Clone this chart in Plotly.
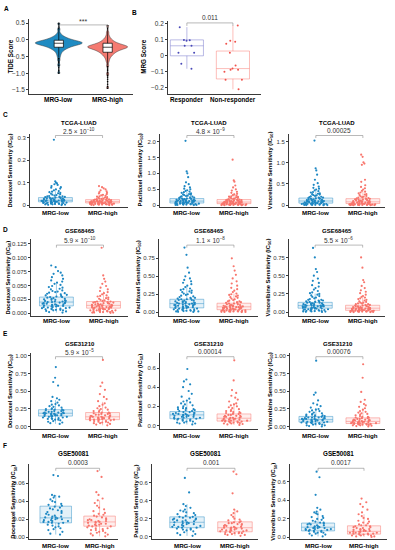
import plotly.graph_objects as go

# ---------------- DATA ----------------
groups = ["MRG-low", "MRG-high"]
resp_groups = ["Responder", "Non-responder"]

# Panel A: TIDE score samples (violin) + box stats [q1, median, q3, lowerfence, upperfence] + outliers
tide_low = [0.5, 0.32, 0.2, 0.14, 0.11, 0.09, 0.07, 0.05, 0.04, 0.03, 0.02, 0.005, -0.004, -0.012, -0.02,
            -0.027, -0.035, -0.041, -0.047, -0.053, -0.058, -0.064, -0.068, -0.074, -0.078, -0.082, -0.087,
            -0.09, -0.094, -0.098, -0.102, -0.107, -0.112, -0.117, -0.123, -0.128, -0.134, -0.14, -0.146,
            -0.153, -0.16, -0.168, -0.176, -0.185, -0.194, -0.204, -0.215, -0.227, -0.24, -0.255, -0.27,
            -0.29, -0.31, -0.34, -0.38, -0.43, -0.5, -0.6, -0.75, -1.0]
tide_high = [0.43, 0.23, 0.13, 0.07, 0.03, 0.0, -0.02, -0.04, -0.06, -0.075, -0.09, -0.1, -0.11, -0.12, -0.13,
             -0.14, -0.148, -0.155, -0.162, -0.168, -0.174, -0.18, -0.186, -0.192, -0.197, -0.202, -0.207,
             -0.211, -0.215, -0.218, -0.222, -0.227, -0.233, -0.239, -0.245, -0.252, -0.259, -0.266, -0.274,
             -0.282, -0.291, -0.3, -0.31, -0.32, -0.33, -0.342, -0.355, -0.37, -0.385, -0.4, -0.42, -0.44,
             -0.465, -0.49, -0.53, -0.58, -0.65, -0.77, -1.02, -1.45]
tide_low_box = [-0.22, -0.1, -0.01, -0.53, 0.3]
tide_high_box = [-0.37, -0.22, -0.1, -0.77, 0.3]
tide_low_out = [0.33, 0.37, 0.41, 0.45, 0.5, -0.56, -0.6, -0.64, -0.68, -0.72, -0.77, -0.82, -0.87, -0.92, -0.96, -1.0]
tide_high_out = [0.33, 0.38, 0.43, -0.8, -0.84, -0.88, -0.92, -0.97, -1.02, -1.07, -1.12, -1.18, -1.25, -1.33, -1.4, -1.45]
tide_p = "***"

# Panel B: MRG score
mrg_resp = [0.18, 0.1, 0.094, 0.098, 0.0625, 0.0625, 0.019, 0.019, -0.05, -0.081]
mrg_nonresp = [0.19, 0.094, 0.088, 0.075, 0.02, -0.06, -0.08, -0.088, -0.088, -0.1, -0.15, -0.15, -0.21]
mrg_resp_box = [0.0, 0.063, 0.1, -0.081, 0.18]
mrg_nonresp_box = [-0.145, -0.08, 0.03, -0.21, 0.19]
mrg_p = "0.011"

# Panels C-F: drug sensitivity (IC50) per cohort
tcga_doc_low = [0.29, 0.106, 0.1, 0.097, 0.093, 0.09, 0.085, 0.08, 0.078, 0.074, 0.07, 0.066, 0.063, 0.06, 0.058, 0.055, 0.053, 0.051, 0.049, 0.047, 0.045, 0.043, 0.041, 0.04, 0.039, 0.038, 0.037, 0.036, 0.035, 0.034, 0.033, 0.032, 0.031, 0.03, 0.029, 0.028, 0.028, 0.027, 0.026, 0.025, 0.025, 0.024, 0.023, 0.023, 0.022, 0.022, 0.021, 0.021, 0.02, 0.02, 0.019, 0.019, 0.018, 0.018, 0.017, 0.017, 0.016, 0.016, 0.015, 0.015, 0.014, 0.014, 0.013, 0.012, 0.012, 0.011, 0.01, 0.01, 0.009, 0.008, 0.008, 0.007, 0.006, 0.006, 0.005, 0.004, 0.004, 0.003, 0.002, 0.001]
tcga_doc_high = [0.085, 0.08, 0.075, 0.07, 0.066, 0.062, 0.058, 0.055, 0.052, 0.049, 0.046, 0.044, 0.042, 0.04, 0.038, 0.036, 0.034, 0.033, 0.031, 0.03, 0.029, 0.028, 0.027, 0.026, 0.025, 0.024, 0.023, 0.022, 0.021, 0.021, 0.02, 0.02, 0.019, 0.019, 0.018, 0.018, 0.017, 0.017, 0.016, 0.016, 0.016, 0.015, 0.015, 0.014, 0.014, 0.014, 0.013, 0.013, 0.012, 0.012, 0.012, 0.011, 0.011, 0.011, 0.01, 0.01, 0.01, 0.009, 0.009, 0.009, 0.008, 0.008, 0.007, 0.007, 0.007, 0.006, 0.006, 0.005, 0.005, 0.005, 0.004, 0.004, 0.004, 0.003, 0.003, 0.003, 0.002, 0.002, 0.001, 0.001]
tcga_pac_low = [2.02, 1.06, 1.0, 0.88, 0.72, 0.66, 0.6, 0.56, 0.52, 0.5, 0.47, 0.45, 0.43, 0.41, 0.39, 0.37, 0.35, 0.34, 0.33, 0.32, 0.3, 0.29, 0.28, 0.27, 0.26, 0.25, 0.24, 0.23, 0.22, 0.21, 0.21, 0.2, 0.19, 0.19, 0.18, 0.18, 0.17, 0.17, 0.16, 0.16, 0.15, 0.15, 0.14, 0.14, 0.13, 0.13, 0.13, 0.12, 0.12, 0.11, 0.11, 0.1, 0.1, 0.1, 0.09, 0.09, 0.08, 0.08, 0.08, 0.07, 0.07, 0.07, 0.06, 0.06, 0.05, 0.05, 0.05, 0.04, 0.04, 0.04, 0.03, 0.03, 0.03, 0.02, 0.02, 0.02, 0.01, 0.01, 0.01, 0.005]
tcga_pac_high = [1.43, 0.78, 0.74, 0.62, 0.56, 0.5, 0.46, 0.42, 0.39, 0.36, 0.34, 0.32, 0.3, 0.28, 0.27, 0.26, 0.25, 0.24, 0.23, 0.22, 0.21, 0.2, 0.19, 0.18, 0.18, 0.17, 0.16, 0.16, 0.15, 0.15, 0.14, 0.14, 0.13, 0.13, 0.12, 0.12, 0.11, 0.11, 0.11, 0.1, 0.1, 0.1, 0.09, 0.09, 0.09, 0.08, 0.08, 0.08, 0.07, 0.07, 0.07, 0.06, 0.06, 0.06, 0.05, 0.05, 0.05, 0.05, 0.04, 0.04, 0.04, 0.04, 0.03, 0.03, 0.03, 0.03, 0.02, 0.02, 0.02, 0.02, 0.015, 0.015, 0.01, 0.01, 0.01, 0.008, 0.006, 0.005, 0.003, 0.002]
tcga_vin_low = [1.52, 0.87, 0.82, 0.72, 0.6, 0.52, 0.48, 0.44, 0.41, 0.39, 0.37, 0.35, 0.33, 0.31, 0.3, 0.28, 0.27, 0.26, 0.25, 0.24, 0.23, 0.22, 0.21, 0.2, 0.19, 0.18, 0.18, 0.17, 0.16, 0.16, 0.15, 0.15, 0.14, 0.14, 0.13, 0.13, 0.12, 0.12, 0.11, 0.11, 0.11, 0.1, 0.1, 0.1, 0.09, 0.09, 0.09, 0.08, 0.08, 0.08, 0.07, 0.07, 0.07, 0.06, 0.06, 0.06, 0.05, 0.05, 0.05, 0.05, 0.04, 0.04, 0.04, 0.04, 0.03, 0.03, 0.03, 0.03, 0.02, 0.02, 0.02, 0.02, 0.015, 0.01, 0.01, 0.01, 0.008, 0.005, 0.003, 0.002]
tcga_vin_high = [1.19, 1.14, 1.01, 0.98, 0.95, 0.6, 0.55, 0.47, 0.43, 0.4, 0.37, 0.34, 0.32, 0.3, 0.28, 0.26, 0.25, 0.24, 0.22, 0.21, 0.2, 0.19, 0.18, 0.17, 0.16, 0.16, 0.15, 0.14, 0.14, 0.13, 0.13, 0.12, 0.12, 0.11, 0.11, 0.1, 0.1, 0.09, 0.09, 0.09, 0.08, 0.08, 0.08, 0.07, 0.07, 0.07, 0.06, 0.06, 0.06, 0.05, 0.05, 0.05, 0.05, 0.04, 0.04, 0.04, 0.04, 0.03, 0.03, 0.03, 0.03, 0.03, 0.02, 0.02, 0.02, 0.02, 0.02, 0.015, 0.015, 0.01, 0.01, 0.01, 0.01, 0.008, 0.006, 0.005, 0.004, 0.003, 0.002, 0.001]

g68_doc_low = [0.086, 0.083, 0.076, 0.073, 0.071, 0.068, 0.065, 0.062, 0.059, 0.057, 0.055, 0.053, 0.051, 0.049, 0.047, 0.046, 0.044, 0.043, 0.041, 0.04, 0.039, 0.038, 0.037, 0.036, 0.035, 0.034, 0.033, 0.032, 0.031, 0.03, 0.029, 0.029, 0.028, 0.027, 0.026, 0.026, 0.025, 0.024, 0.024, 0.023, 0.022, 0.022, 0.021, 0.021, 0.02, 0.02, 0.019, 0.019, 0.018, 0.018, 0.017, 0.017, 0.016, 0.016, 0.015, 0.015, 0.014, 0.014, 0.013, 0.013, 0.012, 0.012, 0.011, 0.011, 0.01, 0.01, 0.009, 0.009, 0.008, 0.008, 0.007, 0.007, 0.006, 0.006, 0.005, 0.005, 0.004, 0.003, 0.002, 0.001]
g68_doc_high = [0.118, 0.068, 0.062, 0.057, 0.053, 0.049, 0.046, 0.043, 0.04, 0.038, 0.036, 0.034, 0.032, 0.031, 0.03, 0.028, 0.027, 0.026, 0.025, 0.024, 0.023, 0.022, 0.021, 0.021, 0.02, 0.02, 0.019, 0.019, 0.018, 0.018, 0.017, 0.017, 0.016, 0.016, 0.015, 0.015, 0.015, 0.014, 0.014, 0.014, 0.013, 0.013, 0.013, 0.012, 0.012, 0.012, 0.011, 0.011, 0.011, 0.01, 0.01, 0.01, 0.009, 0.009, 0.009, 0.008, 0.008, 0.008, 0.007, 0.007, 0.007, 0.006, 0.006, 0.006, 0.005, 0.005, 0.005, 0.004, 0.004, 0.004, 0.003, 0.003, 0.003, 0.002, 0.002, 0.002, 0.001, 0.001, 0.001, 0.0005]
g68_pac_low = [0.9, 0.8, 0.62, 0.55, 0.5, 0.47, 0.45, 0.43, 0.41, 0.39, 0.37, 0.35, 0.33, 0.32, 0.31, 0.3, 0.29, 0.28, 0.27, 0.26, 0.25, 0.24, 0.23, 0.22, 0.21, 0.2, 0.2, 0.19, 0.19, 0.18, 0.18, 0.17, 0.17, 0.16, 0.16, 0.15, 0.15, 0.14, 0.14, 0.13, 0.13, 0.13, 0.12, 0.12, 0.12, 0.11, 0.11, 0.11, 0.1, 0.1, 0.1, 0.09, 0.09, 0.09, 0.08, 0.08, 0.08, 0.07, 0.07, 0.07, 0.06, 0.06, 0.06, 0.05, 0.05, 0.05, 0.04, 0.04, 0.04, 0.03, 0.03, 0.03, 0.02, 0.02, 0.02, 0.015, 0.01, 0.01, 0.005, 0.003]
g68_pac_high = [0.75, 0.64, 0.58, 0.52, 0.47, 0.43, 0.4, 0.37, 0.34, 0.32, 0.3, 0.28, 0.26, 0.25, 0.24, 0.23, 0.22, 0.21, 0.2, 0.19, 0.18, 0.17, 0.16, 0.15, 0.15, 0.14, 0.14, 0.13, 0.13, 0.12, 0.12, 0.11, 0.11, 0.1, 0.1, 0.1, 0.09, 0.09, 0.09, 0.08, 0.08, 0.08, 0.08, 0.07, 0.07, 0.07, 0.07, 0.06, 0.06, 0.06, 0.06, 0.05, 0.05, 0.05, 0.05, 0.04, 0.04, 0.04, 0.04, 0.035, 0.035, 0.03, 0.03, 0.03, 0.025, 0.025, 0.02, 0.02, 0.02, 0.015, 0.015, 0.01, 0.01, 0.01, 0.008, 0.006, 0.005, 0.004, 0.003, 0.002]
g68_vin_low = [0.88, 0.75, 0.59, 0.55, 0.5, 0.46, 0.43, 0.4, 0.37, 0.35, 0.33, 0.31, 0.29, 0.27, 0.26, 0.25, 0.24, 0.23, 0.22, 0.21, 0.2, 0.19, 0.18, 0.17, 0.17, 0.16, 0.16, 0.15, 0.15, 0.14, 0.14, 0.13, 0.13, 0.12, 0.12, 0.12, 0.11, 0.11, 0.11, 0.1, 0.1, 0.1, 0.09, 0.09, 0.09, 0.09, 0.08, 0.08, 0.08, 0.08, 0.07, 0.07, 0.07, 0.07, 0.06, 0.06, 0.06, 0.06, 0.05, 0.05, 0.05, 0.05, 0.04, 0.04, 0.04, 0.04, 0.03, 0.03, 0.03, 0.03, 0.02, 0.02, 0.02, 0.015, 0.015, 0.01, 0.01, 0.008, 0.005, 0.003]
g68_vin_high = [0.75, 0.61, 0.44, 0.41, 0.36, 0.33, 0.3, 0.28, 0.26, 0.24, 0.22, 0.21, 0.2, 0.19, 0.18, 0.17, 0.16, 0.15, 0.14, 0.13, 0.13, 0.12, 0.12, 0.11, 0.11, 0.1, 0.1, 0.09, 0.09, 0.09, 0.08, 0.08, 0.08, 0.07, 0.07, 0.07, 0.07, 0.06, 0.06, 0.06, 0.06, 0.055, 0.055, 0.05, 0.05, 0.05, 0.05, 0.045, 0.045, 0.04, 0.04, 0.04, 0.04, 0.035, 0.035, 0.03, 0.03, 0.03, 0.03, 0.025, 0.025, 0.025, 0.02, 0.02, 0.02, 0.02, 0.015, 0.015, 0.015, 0.01, 0.01, 0.01, 0.01, 0.008, 0.006, 0.005, 0.004, 0.003, 0.002, 0.001]

g31_doc_low = [0.84, 0.69, 0.63, 0.58, 0.42, 0.4, 0.38, 0.36, 0.34, 0.32, 0.31, 0.3, 0.29, 0.28, 0.27, 0.26, 0.25, 0.25, 0.24, 0.24, 0.23, 0.23, 0.22, 0.22, 0.21, 0.21, 0.2, 0.2, 0.2, 0.19, 0.19, 0.19, 0.18, 0.18, 0.18, 0.17, 0.17, 0.17, 0.16, 0.16, 0.16, 0.15, 0.15, 0.15, 0.14, 0.14, 0.13, 0.13, 0.12, 0.12, 0.11, 0.11, 0.1, 0.1, 0.09, 0.08, 0.07, 0.06, 0.05, 0.04]
g31_doc_high = [0.94, 0.62, 0.57, 0.52, 0.46, 0.42, 0.39, 0.36, 0.33, 0.31, 0.29, 0.27, 0.26, 0.25, 0.24, 0.23, 0.22, 0.21, 0.2, 0.2, 0.19, 0.19, 0.18, 0.18, 0.17, 0.17, 0.16, 0.16, 0.15, 0.15, 0.15, 0.14, 0.14, 0.14, 0.13, 0.13, 0.13, 0.12, 0.12, 0.12, 0.11, 0.11, 0.11, 0.1, 0.1, 0.1, 0.09, 0.09, 0.09, 0.08, 0.08, 0.07, 0.07, 0.06, 0.06, 0.05, 0.05, 0.04, 0.03, 0.02]
g31_pac_low = [0.59, 0.48, 0.46, 0.43, 0.4, 0.36, 0.33, 0.3, 0.28, 0.26, 0.25, 0.24, 0.23, 0.22, 0.21, 0.2, 0.19, 0.18, 0.18, 0.17, 0.17, 0.16, 0.16, 0.15, 0.15, 0.14, 0.14, 0.13, 0.13, 0.13, 0.12, 0.12, 0.12, 0.11, 0.11, 0.11, 0.1, 0.1, 0.1, 0.09, 0.09, 0.09, 0.08, 0.08, 0.08, 0.07, 0.07, 0.07, 0.06, 0.06, 0.06, 0.05, 0.05, 0.04, 0.04, 0.03, 0.03, 0.02, 0.02, 0.01]
g31_pac_high = [0.68, 0.47, 0.37, 0.34, 0.31, 0.29, 0.27, 0.25, 0.23, 0.22, 0.21, 0.2, 0.19, 0.18, 0.17, 0.16, 0.15, 0.15, 0.14, 0.14, 0.13, 0.13, 0.12, 0.12, 0.11, 0.11, 0.1, 0.1, 0.1, 0.09, 0.09, 0.09, 0.08, 0.08, 0.08, 0.07, 0.07, 0.07, 0.07, 0.06, 0.06, 0.06, 0.06, 0.05, 0.05, 0.05, 0.05, 0.04, 0.04, 0.04, 0.04, 0.03, 0.03, 0.03, 0.025, 0.02, 0.02, 0.015, 0.01, 0.005]
g31_vin_low = [0.93, 0.48, 0.45, 0.37, 0.33, 0.31, 0.29, 0.27, 0.25, 0.24, 0.23, 0.22, 0.21, 0.2, 0.19, 0.18, 0.17, 0.17, 0.16, 0.16, 0.15, 0.15, 0.14, 0.14, 0.13, 0.13, 0.13, 0.12, 0.12, 0.12, 0.11, 0.11, 0.11, 0.1, 0.1, 0.1, 0.1, 0.09, 0.09, 0.09, 0.08, 0.08, 0.08, 0.07, 0.07, 0.07, 0.06, 0.06, 0.06, 0.05, 0.05, 0.05, 0.04, 0.04, 0.03, 0.03, 0.02, 0.02, 0.01, 0.005]
g31_vin_high = [0.88, 0.69, 0.49, 0.38, 0.35, 0.32, 0.3, 0.28, 0.26, 0.24, 0.22, 0.21, 0.2, 0.19, 0.18, 0.17, 0.16, 0.15, 0.14, 0.14, 0.13, 0.13, 0.12, 0.12, 0.11, 0.11, 0.1, 0.1, 0.1, 0.09, 0.09, 0.09, 0.08, 0.08, 0.08, 0.07, 0.07, 0.07, 0.07, 0.06, 0.06, 0.06, 0.06, 0.05, 0.05, 0.05, 0.05, 0.04, 0.04, 0.04, 0.04, 0.03, 0.03, 0.03, 0.025, 0.02, 0.02, 0.015, 0.01, 0.005]

g50_doc_low = [0.069, 0.068, 0.047, 0.046, 0.045, 0.044, 0.042, 0.04, 0.039, 0.037, 0.036, 0.035, 0.034, 0.033, 0.032, 0.031, 0.03, 0.029, 0.028, 0.027, 0.026, 0.025, 0.024, 0.023, 0.023, 0.022, 0.022, 0.021, 0.021, 0.02, 0.02, 0.019, 0.019, 0.018, 0.018, 0.017, 0.017, 0.016, 0.016, 0.015, 0.014, 0.013, 0.012, 0.011, 0.01, 0.009, 0.008, 0.006, 0.004, 0.003]
g50_doc_high = [0.0735, 0.067, 0.05, 0.047, 0.043, 0.041, 0.038, 0.035, 0.033, 0.031, 0.029, 0.027, 0.026, 0.025, 0.024, 0.023, 0.022, 0.021, 0.02, 0.02, 0.019, 0.019, 0.018, 0.018, 0.017, 0.017, 0.016, 0.016, 0.015, 0.015, 0.014, 0.014, 0.013, 0.013, 0.012, 0.012, 0.011, 0.01, 0.01, 0.009, 0.008, 0.008, 0.007, 0.006, 0.005, 0.005, 0.004, 0.003, 0.002, 0.001]
g50_pac_low = [0.65, 0.49, 0.36, 0.34, 0.32, 0.3, 0.29, 0.28, 0.27, 0.26, 0.25, 0.24, 0.23, 0.22, 0.22, 0.21, 0.21, 0.2, 0.2, 0.19, 0.19, 0.18, 0.18, 0.17, 0.17, 0.16, 0.16, 0.15, 0.15, 0.14, 0.14, 0.13, 0.13, 0.12, 0.12, 0.11, 0.11, 0.1, 0.1, 0.09, 0.09, 0.08, 0.08, 0.07, 0.06, 0.05, 0.04, 0.03, 0.02, 0.01]
g50_pac_high = [0.72, 0.69, 0.48, 0.3, 0.28, 0.26, 0.24, 0.22, 0.2, 0.19, 0.18, 0.17, 0.16, 0.16, 0.15, 0.15, 0.14, 0.14, 0.13, 0.13, 0.12, 0.12, 0.11, 0.11, 0.1, 0.1, 0.1, 0.09, 0.09, 0.09, 0.08, 0.08, 0.08, 0.07, 0.07, 0.07, 0.06, 0.06, 0.06, 0.05, 0.05, 0.05, 0.04, 0.04, 0.04, 0.03, 0.03, 0.02, 0.02, 0.01]
g50_vin_low = [0.71, 0.65, 0.46, 0.32, 0.3, 0.28, 0.27, 0.26, 0.25, 0.23, 0.22, 0.21, 0.2, 0.19, 0.18, 0.17, 0.16, 0.16, 0.15, 0.15, 0.14, 0.14, 0.13, 0.13, 0.12, 0.12, 0.11, 0.11, 0.11, 0.1, 0.1, 0.1, 0.09, 0.09, 0.09, 0.08, 0.08, 0.08, 0.07, 0.07, 0.07, 0.06, 0.06, 0.05, 0.05, 0.04, 0.04, 0.03, 0.02, 0.01]
g50_vin_high = [0.42, 0.38, 0.36, 0.33, 0.3, 0.27, 0.25, 0.23, 0.21, 0.2, 0.18, 0.17, 0.16, 0.15, 0.14, 0.13, 0.13, 0.12, 0.12, 0.11, 0.11, 0.1, 0.1, 0.09, 0.09, 0.08, 0.08, 0.08, 0.07, 0.07, 0.07, 0.06, 0.06, 0.06, 0.05, 0.05, 0.05, 0.04, 0.04, 0.04, 0.04, 0.03, 0.03, 0.03, 0.02, 0.02, 0.02, 0.01, 0.01, 0.005]

# box statistics [q1, median, q3, lowerfence, upperfence]
tcga_doc_box = ([0.015, 0.022, 0.034, 0.001, 0.0625], [0.010, 0.016, 0.025, 0.001, 0.0475])
tcga_pac_box = ([0.07, 0.13, 0.21, 0.005, 0.42], [0.05, 0.10, 0.18, 0.002, 0.375])
tcga_vin_box = ([0.05, 0.10, 0.17, 0.002, 0.35], [0.04, 0.08, 0.155, 0.001, 0.33])
g68_doc_box = ([0.013, 0.020, 0.029, 0.001, 0.053], [0.009, 0.014, 0.021, 0.0005, 0.039])
g68_pac_box = ([0.06, 0.12, 0.18, 0.003, 0.36], [0.035, 0.075, 0.125, 0.002, 0.26])
g68_vin_box = ([0.055, 0.09, 0.135, 0.003, 0.255], [0.025, 0.055, 0.095, 0.001, 0.2])
g31_doc_box = ([0.15, 0.19, 0.24, 0.04, 0.375], [0.10, 0.14, 0.20, 0.02, 0.35])
g31_pac_box = ([0.07, 0.11, 0.145, 0.01, 0.26], [0.045, 0.075, 0.12, 0.005, 0.23])
g31_vin_box = ([0.065, 0.10, 0.145, 0.005, 0.265], [0.045, 0.075, 0.125, 0.005, 0.245])
g50_doc_box = ([0.016, 0.0215, 0.0345, 0.003, 0.047], [0.0122, 0.017, 0.0235, 0.001, 0.041])
g50_pac_box = ([0.10, 0.16, 0.22, 0.01, 0.36], [0.055, 0.10, 0.165, 0.01, 0.30])
g50_vin_box = ([0.07, 0.11, 0.155, 0.01, 0.28], [0.035, 0.065, 0.125, 0.005, 0.25])

cohorts = ["TCGA-LUAD", "GSE68465", "GSE31210", "GSE50081"]
drugs = ["Docetaxel", "Paclitaxel", "Vinorelbine"]
pvalues = [
    ["2.5 × 10<sup>−10</sup>", "4.8 × 10<sup>−9</sup>", "0.00025"],
    ["5.9 × 10<sup>−10</sup>", "1.1 × 10<sup>−8</sup>", "5.5 × 10<sup>−6</sup>"],
    ["5.9 × 10<sup>−5</sup>", "0.00014", "0.00076"],
    ["0.0003", "0.001", "0.0017"],
]
series = [
    [(tcga_doc_low, tcga_doc_high, tcga_doc_box), (tcga_pac_low, tcga_pac_high, tcga_pac_box), (tcga_vin_low, tcga_vin_high, tcga_vin_box)],
    [(g68_doc_low, g68_doc_high, g68_doc_box), (g68_pac_low, g68_pac_high, g68_pac_box), (g68_vin_low, g68_vin_high, g68_vin_box)],
    [(g31_doc_low, g31_doc_high, g31_doc_box), (g31_pac_low, g31_pac_high, g31_pac_box), (g31_vin_low, g31_vin_high, g31_vin_box)],
    [(g50_doc_low, g50_doc_high, g50_doc_box), (g50_pac_low, g50_pac_high, g50_pac_box), (g50_vin_low, g50_vin_high, g50_vin_box)],
]
ytick_vals = [
    [[0, 0.1, 0.2, 0.3], [0, 0.5, 1, 1.5, 2], [0, 0.5, 1, 1.5]],
    [[0, 0.025, 0.05, 0.075, 0.1, 0.125], [0, 0.25, 0.5, 0.75], [0, 0.25, 0.5, 0.75]],
    [[0, 0.25, 0.5, 0.75, 1], [0, 0.2, 0.4, 0.6], [0, 0.25, 0.5, 0.75, 1]],
    [[0, 0.02, 0.04, 0.06], [0, 0.2, 0.4, 0.6], [0, 0.2, 0.4, 0.6]],
]
ytick_text = [
    [["0", "0.1", "0.2", "0.3"], ["0", "0.5", "1.0", "1.5", "2.0"], ["0", "0.5", "1.0", "1.5"]],
    [["0.000", "0.025", "0.050", "0.075", "0.100", "0.125"], ["0.00", "0.25", "0.50", "0.75"], ["0.00", "0.25", "0.50", "0.75"]],
    [["0.00", "0.25", "0.50", "0.75", "1.00"], ["0.0", "0.2", "0.4", "0.6"], ["0.00", "0.25", "0.50", "0.75", "1.00"]],
    [["0.00", "0.02", "0.04", "0.06"], ["0.0", "0.2", "0.4", "0.6"], ["0.0", "0.2", "0.4", "0.6"]],
]

# ---------------- GEOMETRY / STYLE ----------------
W, H = 395, 550
FONT = "Liberation Sans, Arial, sans-serif"
BLUE = "#1E88C3"
RED = "#F8766D"
BLUE_LINE = "rgba(30,136,195,0.55)"
RED_LINE = "rgba(248,118,109,0.6)"
BLUE_FILL = "rgba(30,136,195,0.12)"
RED_FILL = "rgba(248,118,109,0.12)"
AXC = "#3a3a3a"

# pixel geometry: (x0, x1, xrange, y0, y1, yrange)
geom_A = (29, 133, [-0.61, 1.52], 18, 93, [-1.61, 0.628])
geom_B = (168, 261, [-0.41, 1.61], 20, 93, [-0.2375, 0.219])
row_y = [(133, 207), (239, 316), (353, 430), (465, 540)]
row_yrange = [
    [[-0.0088, 0.3176], [-0.0625, 2.25], [-0.047, 1.687]],
    [[-0.0049, 0.1336], [-0.051, 1.018], [-0.05, 1.0]],
    [[-0.038, 1.042], [-0.042, 0.76], [-0.038, 1.042]],
    [[-0.002, 0.081], [-0.025, 0.8], [-0.018, 0.79]],
]
col_x = [
    [(30, 128, [-0.54, 1.54]), (160, 258, [-0.57, 1.51]), (289, 385, [-0.57, 1.47])],
    [(31, 128, [-0.54, 1.52]), (159, 258, [-0.59, 1.51]), (289, 385, [-0.55, 1.47])],
    [(31, 128, [-0.52, 1.54]), (160, 258, [-0.57, 1.51]), (290, 385, [-0.55, 1.47])],
    [(29, 118, [-0.61, 1.42]), (152, 258, [-0.73, 1.48]), (290, 387, [-0.61, 1.5])],
]
ytitle_x = [[10, 140, 270], [8, 138, 268], [10, 140, 270], [14, 137, 274]]
title_y = [122, 231, 344, 454]
pval_y = [130, 240, 352, 463]
bracket_y = [135, 245, 357, 469]
xlabel_y = [212, 320.5, 436.5, 546]
letter_pos = {"A": (6, 8), "B": (134, 12), "C": (5, 114), "D": (5, 229), "E": (5, 334), "F": (5, 446)}


def fx(x):
    return x / W


def fy(y):
    return 1 - y / H


fig = go.Figure()
layout = dict(width=W, height=H, margin=dict(l=0, r=0, t=0, b=0), paper_bgcolor="white",
              plot_bgcolor="white", showlegend=False, boxmode="overlay", violinmode="overlay",
              font=dict(family=FONT, size=6, color="#333"))
annotations = []
shapes = []


def add_axes(n, g, cats, tickvals, ticktext, label_y, xfont=6.2):
    x0, x1, xr, y0, y1, yr = g
    sx = "" if n == 1 else str(n)
    layout["xaxis" + sx] = dict(domain=[fx(x0), fx(x1)], range=xr, anchor="y" + sx, type="category",
                                categoryorder="array", categoryarray=cats, showline=True, linecolor=AXC,
                                linewidth=0.8, ticks="", showticklabels=False,
                                showgrid=False, zeroline=False, fixedrange=True)
    layout["yaxis" + sx] = dict(domain=[fy(y1), fy(y0)], range=yr, anchor="x" + sx, showline=True,
                                linecolor=AXC, linewidth=0.8, ticks="outside", ticklen=2, tickwidth=0.6,
                                tickcolor=AXC, tickvals=tickvals, ticktext=ticktext,
                                tickfont=dict(family=FONT, size=6, color="#333"), showgrid=False,
                                zeroline=False, fixedrange=True)
    for cat in cats:
        annotations.append(dict(text="<b>" + cat + "</b>", xref="x" + sx, yref="paper", x=cat, y=fy(label_y),
                                showarrow=False, xanchor="center", yanchor="middle",
                                font=dict(family=FONT, size=xfont, color="black")))
    return ("x" + sx, "y" + sx)


def bracket(xa, ypix, text, tsize=6.5, ty=None, tip=2.5):
    shapes.append(dict(type="line", xref=xa, yref="paper", x0=0, x1=1, y0=fy(ypix), y1=fy(ypix),
                       line=dict(color="#8a8a8a", width=0.6)))
    for xv in (0, 1):
        shapes.append(dict(type="line", xref=xa, yref="paper", x0=xv, x1=xv, y0=fy(ypix), y1=fy(ypix + tip),
                           line=dict(color="#8a8a8a", width=0.6)))
    annotations.append(dict(text=text, xref=xa, yref="paper", x=0.5, y=fy(ty if ty is not None else ypix - 5),
                            showarrow=False, xanchor="center", yanchor="middle",
                            font=dict(family=FONT, size=tsize, color="#333")))


def ytitle(text, x, ymid, size=5.8):
    annotations.append(dict(text="<b>" + text + "</b>", xref="paper", yref="paper", x=fx(x), y=fy(ymid),
                            textangle=-90, showarrow=False, xanchor="center", yanchor="middle",
                            font=dict(family=FONT, size=size, color="black")))


def point_trace(cat, vals, xa, ya, color, size=2.2, width=0.7, jitter=0.9):
    return go.Box(x=[cat] * len(vals), y=vals, xaxis=xa, yaxis=ya, boxpoints="all", jitter=jitter,
                  pointpos=0, width=width, line=dict(color="rgba(0,0,0,0)", width=0),
                  fillcolor="rgba(0,0,0,0)", marker=dict(color=color, size=size, line=dict(width=0)),
                  hoverinfo="skip", showlegend=False)


def stat_box(cat, st, xa, ya, line, fill, width=0.7, lw=0.8):
    return go.Box(x=[cat], q1=[st[0]], median=[st[1]], q3=[st[2]], lowerfence=[st[3]], upperfence=[st[4]],
                  orientation="v", xaxis=xa, yaxis=ya, line=dict(color=line, width=lw), fillcolor=fill,
                  width=width, whiskerwidth=0, boxpoints=False, hoverinfo="skip", showlegend=False)


# ---- Panel A ----
xa, ya = add_axes(1, geom_A, groups, [0.5, 0, -0.5, -1, -1.5], ["0.5", "0.0", "−0.5", "−1.0", "−1.5"], 99, xfont=6.5)
layout["yaxis"]["tickfont"]["size"] = 6.5
for cat, vals, wv, col in ((groups[0], tide_low, 0.96, "#1F8BC2"), (groups[1], tide_high, 0.82, "#F47A71")):
    fig.add_trace(go.Violin(x=[cat] * len(vals), y=vals, xaxis=xa, yaxis=ya, fillcolor=col,
                            line=dict(color="#3c3c3c", width=0.5), points=False, spanmode="hard",
                            bandwidth=0.045, width=wv, scalemode="width", box=dict(visible=False),
                            meanline=dict(visible=False), opacity=1, hoverinfo="skip", showlegend=False))
for cat, st in ((groups[0], tide_low_box), (groups[1], tide_high_box)):
    fig.add_trace(stat_box(cat, st, xa, ya, "black", "white", width=0.19, lw=0.7))
for cat, vals in ((groups[0], tide_low_out), (groups[1], tide_high_out)):
    fig.add_trace(go.Scatter(x=[cat] * len(vals), y=vals, xaxis=xa, yaxis=ya, mode="markers",
                             marker=dict(color="black", size=1.6), hoverinfo="skip", showlegend=False))
bracket(xa, 24, tide_p, tsize=7, ty=20.5, tip=3)
ytitle("TIDE Score", 10, 55.5, size=6.3)

# ---- Panel B ----
xb, yb = add_axes(2, geom_B, resp_groups, [0.2, 0.1, 0, -0.1, -0.2], ["0.2", "0.1", "0", "−0.1", "−0.2"], 99, xfont=6.3)
layout["yaxis2"]["tickfont"]["size"] = 6.5
fig.add_trace(stat_box(resp_groups[0], mrg_resp_box, xb, yb, "rgba(110,110,200,0.6)", "rgba(0,0,0,0)", width=0.72, lw=0.8))
fig.add_trace(stat_box(resp_groups[1], mrg_nonresp_box, xb, yb, "rgba(248,118,109,0.6)", "rgba(0,0,0,0)", width=0.72, lw=0.8))
fig.add_trace(point_trace(resp_groups[0], mrg_resp, xb, yb, "#4A4AB8", size=2.0, width=0.72, jitter=0.6))
fig.add_trace(point_trace(resp_groups[1], mrg_nonresp, xb, yb, "#F0524B", size=2.0, width=0.72, jitter=0.7))
bracket(xb, 22, mrg_p, tsize=6.5, ty=17, tip=3)
ytitle("MRG Score", 144, 56, size=6.3)

# ---- Panels C-F ----
n = 3
for r in range(4):
    y0, y1 = row_y[r]
    for c in range(3):
        x0, x1, xr = col_x[r][c]
        g = (x0, x1, xr, y0, y1, row_yrange[r][c])
        xa, ya = add_axes(n, g, groups, ytick_vals[r][c], ytick_text[r][c], xlabel_y[r])
        low, high, (bl, bh) = series[r][c]
        fig.add_trace(point_trace(groups[0], low, xa, ya, BLUE))
        fig.add_trace(point_trace(groups[1], high, xa, ya, RED))
        fig.add_trace(stat_box(groups[0], bl, xa, ya, BLUE_LINE, BLUE_FILL, width=0.72))
        fig.add_trace(stat_box(groups[1], bh, xa, ya, RED_LINE, RED_FILL, width=0.72))
        bracket(xa, bracket_y[r], pvalues[r][c], tsize=6.5, ty=pval_y[r])
        annotations.append(dict(text="<b>" + cohorts[r] + "</b>", xref="paper", yref="paper",
                                x=fx((x0 + x1) / 2), y=fy(title_y[r]), showarrow=False,
                                xanchor="center", yanchor="middle",
                                font=dict(family=FONT, size=6.3 if r == 3 else 6, color="black")))
        ytitle(drugs[c] + " Sensitivity (IC<sub>50</sub>)", ytitle_x[r][c], (y0 + y1) / 2)
        n += 1

for k, (lx, ly) in letter_pos.items():
    annotations.append(dict(text="<b>" + k + "</b>", xref="paper", yref="paper", x=fx(lx), y=fy(ly),
                            showarrow=False, xanchor="center", yanchor="middle",
                            font=dict(family=FONT, size=6.5, color="black")))

layout["annotations"] = annotations
layout["shapes"] = shapes
fig.update_layout(**layout)
fig.write_html("out.html", config={"displayModeBar": False},
               post_script="document.body.style.margin='0px';document.body.style.padding='0px';")
